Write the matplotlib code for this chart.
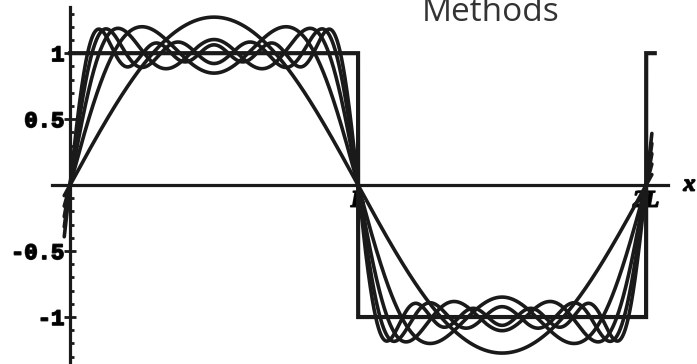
import numpy as np
import matplotlib.pyplot as plt
import matplotlib.patheffects as pe

# number of odd harmonics kept in each partial sum of the square wave
harmonic_counts = [1, 2, 3, 4, 5]
period_half = 1.0  # L
x_range = [-0.02, 2.02]
y_tick_values = [-1, -0.5, 0.5, 1]
y_tick_labels = ['-1', '-0.5', '0.5', '1']
x_tick_values = [1, 2]
x_tick_labels = ['L', '2L']

ink = '#1a1a1a'
heavy = [pe.withStroke(linewidth=1.2, foreground=ink)]


def partial_sum(x, n_terms, L):
    s = np.zeros_like(x)
    for k in range(1, n_terms + 1):
        m = 2 * k - 1
        s += np.sin(m * np.pi * x / L) / m
    return 4 / np.pi * s


fig = plt.figure(figsize=(6.97, 3.64), dpi=100)
ax = fig.add_axes([52 / 697, 0, 616 / 697, 1 - 7 / 364])

x = np.linspace(x_range[0], x_range[1], 4001)
for n in harmonic_counts:
    ax.plot(x, partial_sum(x, n, period_half), color=ink, lw=2.6,
            solid_capstyle='round', zorder=3)

xs = np.linspace(1e-6, x_range[1] + 0.01, 20001)
square = np.sign(np.sin(np.pi * xs / period_half))
ax.plot(xs, square, color=ink, lw=3.0, solid_joinstyle='miter', zorder=3)

ax.set_xlim(-0.0625, 2.076)
ax.set_ylim(-1.356, 1.35)

for side in ['top', 'right']:
    ax.spines[side].set_visible(False)
ax.spines['left'].set_position(('data', 0))
ax.spines['bottom'].set_position(('data', 0))
for side in ['left', 'bottom']:
    ax.spines[side].set_linewidth(2.3)
    ax.spines[side].set_color(ink)

ax.set_yticks(y_tick_values)
ax.set_yticklabels(y_tick_labels, fontfamily='Liberation Mono',
                   fontweight='bold', fontsize=16)
ax.set_yticks(np.arange(-1.3, 1.31, 0.1), minor=True)
ax.tick_params(axis='y', which='major', direction='inout', length=8,
               width=2, color=ink, pad=0)
ax.tick_params(axis='y', which='minor', direction='in', length=3,
               width=2, color=ink)

ax.set_xticks(x_tick_values)
ax.set_xticklabels(x_tick_labels, fontfamily='Liberation Serif',
                   fontweight='bold', fontstyle='italic', fontsize=17)
ax.tick_params(axis='x', which='both', length=0, pad=4)

for lbl in ax.get_yticklabels() + ax.get_xticklabels():
    lbl.set_path_effects(heavy)

ax.text(2.13, 0, 'x', fontfamily='Liberation Serif', fontweight='bold',
        fontstyle='italic', fontsize=17, va='center', ha='left',
        clip_on=False, path_effects=heavy)

fig.text(422 / 697, 1 - 21 / 364, 'Methods', fontfamily='Open Sans',
         fontsize=24, color='#333333', va='baseline', ha='left')

fig.savefig('out.png', dpi=100)
